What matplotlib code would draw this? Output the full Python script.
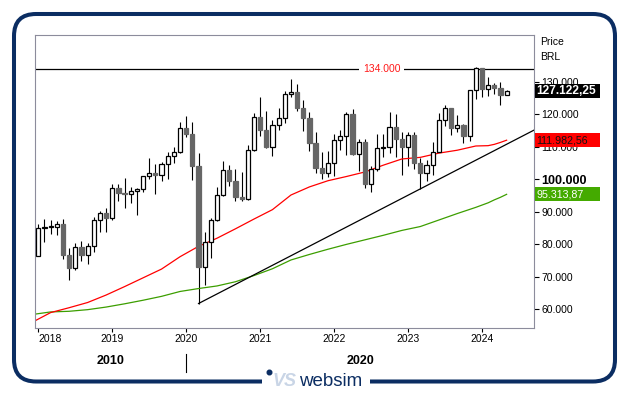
import numpy as np
import pandas as pd
import matplotlib
matplotlib.use("Agg")
import matplotlib.pyplot as plt
from matplotlib.patches import Rectangle, FancyBboxPatch, Circle
from matplotlib.transforms import blended_transform_factory

plt.rcParams['font.family'] = ['Liberation Sans', 'DejaVu Sans']

# monthly Ibovespa candles, Jan 2018 .. May 2024
months = pd.period_range("2018-01", "2024-05", freq="M")
opens = [76403, 84913, 85353, 85366, 86115, 76754, 72763, 79220, 76678, 79342, 87424, 89504,
         87887, 97394, 95584, 95415, 96353, 97030, 100967, 101812, 101135, 104745, 107220, 108233,
         115645, 113761, 104172, 73020, 80506, 87403, 95056, 102912, 99369, 94603, 93952, 108893,
         119017, 115068, 110035, 116634, 118894, 126216, 126802, 121801, 118781, 110979, 103501, 101915,
         104822, 112144, 113142, 119999, 107876, 111351, 98542, 103165, 109523, 110037, 116037, 112486,
         109735, 113532, 104932, 101882, 104432, 108335, 118087, 121943, 115742, 116565, 113143, 127331,
         134185, 127752, 129020, 128106, 125924]
highs = [86213, 87652, 87293, 86954, 87680, 78900, 80300, 81000, 80200, 88300, 90300, 91200,
         98400, 98600, 100400, 97500, 97400, 101100, 106600, 104500, 105200, 108400, 109800, 117700,
         119500, 117500, 108000, 83800, 88000, 97500, 105700, 104300, 103000, 102300, 110500, 120300,
         125300, 121100, 118200, 121800, 127200, 130776, 129300, 124300, 120800, 114600, 108500, 108700,
         113800, 115100, 120800, 121570, 112500, 112500, 103900, 114000, 114000, 120767, 120000, 114500,
         114500, 114500, 106500, 106000, 111500, 120400, 122900, 122000, 119800, 117000, 127400, 134392,
         134300, 131500, 129600, 129900, 127300]
lows = [76403, 80678, 83000, 82762, 75355, 69069, 72000, 74800, 73900, 77600, 83800, 83700,
        87500, 93200, 91200, 92500, 89000, 96000, 100000, 95400, 99500, 100000, 105000, 107900,
        112900, 99600, 61690, 67400, 75600, 87100, 94700, 97800, 93200, 93200, 93700, 108800,
        113400, 109500, 107000, 115000, 117200, 125300, 121000, 114800, 108800, 101800, 100075, 100600,
        100850, 109000, 107300, 107300, 102500, 97200, 96000, 102600, 106800, 108000, 106800, 101300,
        104000, 103200, 96997, 99500, 101200, 108200, 116500, 113600, 114400, 111000, 111700, 124800,
        125300, 125500, 126200, 122800, 125900]
closes = [84913, 85353, 85366, 86115, 76754, 72763, 79220, 76678, 79342, 87424, 89504, 87887,
          97394, 95584, 95415, 96353, 97030, 100967, 101812, 101135, 104745, 107220, 108233, 115645,
          113761, 104172, 73020, 80506, 87403, 95056, 102912, 99369, 94603, 93952, 108893, 119017,
          115068, 110035, 116634, 118894, 126216, 126802, 121801, 118781, 110979, 103501, 101915, 104822,
          112144, 113142, 119999, 107876, 111351, 98542, 103165, 109523, 110037, 116037, 112486, 109735,
          113532, 104932, 101882, 104432, 108335, 118087, 121943, 115742, 116565, 113143, 127331, 134185,
          127752, 129020, 128106, 125924, 127122.25]

# moving averages (red = 50 periods, green = 100 periods)
ma_months = ["2017-12", "2018-03", "2018-06", "2018-09", "2018-12", "2019-03", "2019-06", "2019-09",
             "2019-12", "2020-03", "2020-06", "2020-09", "2020-12", "2021-03", "2021-06", "2021-09",
             "2021-12", "2022-03", "2022-06", "2022-09", "2022-12", "2023-03", "2023-06", "2023-09",
             "2023-12", "2024-02", "2024-03", "2024-04", "2024-05"]
ma50 = [55900, 58900, 60400, 62000, 64300, 66900, 69600, 72300,
        76100, 79300, 81800, 84700, 87700, 90600, 95100, 97600,
        99500, 100800, 102200, 104300, 106200, 106700, 108000, 108900,
        110200, 110300, 110700, 111300, 111982.56]
ma100 = [58300, 59100, 59300, 59800, 60600, 61600, 62700, 63900,
         65400, 66300, 67100, 68400, 70300, 72400, 75100, 76800,
         78400, 79900, 81300, 82700, 84200, 85400, 87400, 89400,
         91300, 92700, 93600, 94400, 95313.87]

resistance = 134000
trend_pts = [("2020-03", 61690), ("2023-03", 96997)]
yticks = [60000, 70000, 80000, 90000, 100000, 110000, 120000, 130000]
decades = ["2010", "2020"]


def month_idx(s):
    p = pd.Period(s, freq="M")
    return (p.year - 2018) * 12 + p.month - 1


def fmt_thousands(v):
    return f"{v:,.0f}".replace(",", ".")


def fmt_price(v):
    return f"{v:,.2f}".replace(",", "X").replace(".", ",").replace("X", ".")


fig = plt.figure(figsize=(6.29, 3.95), dpi=100)

# frame with the logo sitting on the bottom edge
bg = fig.add_axes([0, 0, 1, 1])
bg.set_xlim(0, 629)
bg.set_ylim(395, 0)
bg.axis("off")
navy = "#0b2d62"
bg.add_patch(FancyBboxPatch((14, 14), 601, 367.5, boxstyle="round,pad=0,rounding_size=22",
                            fill=False, ec=navy, lw=2.9))
bg.add_patch(Rectangle((262, 374), 108, 14, fc="white", ec="none", zorder=3))
bg.add_patch(Circle((269.5, 372.5), 2.3, color=navy, zorder=4))
bg.text(272, 382, "VS", fontsize=13, fontweight="bold", style="italic", color="#c9d5e6",
        ha="left", va="center", zorder=4)
bg.text(299, 381, "websim", fontsize=13.5, color=navy, ha="left", va="center", zorder=4)

ax = fig.add_axes([0.0561, 0.1696, 0.7934, 0.7426])
x = np.arange(len(months))
xmax = 80.5
ax.set_xlim(-0.49, xmax)
ax.set_ylim(54150, 144475)

o = np.array(opens)
c = np.array(closes)
up = c >= o
ax.vlines(x, lows, highs, color="black", lw=0.8, zorder=2)
ax.bar(x, np.maximum(np.abs(c - o), 150), bottom=np.minimum(o, c), width=0.68,
       color=np.where(up, "white", "#666666"), edgecolor=np.where(up, "black", "#666666"),
       lw=0.9, zorder=3)

mx = [month_idx(m) for m in ma_months]
ax.plot(mx, ma100, color="#3c9e00", lw=0.9, zorder=2.5)
ax.plot(mx, ma50, color="#ff0000", lw=0.9, zorder=2.5)

# trendline through the two lows, extended to the right edge
(m0, v0), (m1, v1) = trend_pts
x0, x1 = month_idx(m0), month_idx(m1)
slope = (v1 - v0) / (x1 - x0)
ax.plot([x0, xmax], [v0, v0 + slope * (xmax - x0)], color="black", lw=0.9, zorder=2.5)

ax.axhline(resistance, color="black", lw=0.9, zorder=2.5)
ax.text(0.694, resistance, fmt_thousands(resistance), transform=blended_transform_factory(ax.transAxes, ax.transData),
        color="#ff1a1a", fontsize=7.5, ha="center", va="center", zorder=4,
        bbox=dict(boxstyle="square,pad=0.35", fc="white", ec="none"))

# axes styling
for s in ax.spines.values():
    s.set_color("#8c8c9c")
    s.set_linewidth(0.8)
ax.yaxis.tick_right()
ax.set_yticks(yticks)
ax.set_yticklabels([fmt_thousands(v) for v in yticks])
ax.tick_params(axis="y", direction="out", length=3.6, width=0.8, pad=1.5, labelsize=7.5)
for lab, v in zip(ax.get_yticklabels(), yticks):
    if v == 100000:
        lab.set_fontweight("bold")
        lab.set_fontsize(9)

year_idx = [i for i, p in enumerate(months) if p.month == 1]
ax.set_xticks(year_idx)
ax.set_xticklabels([str(months[i].year) for i in year_idx])
ax.tick_params(axis="x", direction="out", length=3, width=0.8, pad=1.5, labelsize=7.5)
ax.get_xticklabels()[0].set_ha("left")

bx = blended_transform_factory(ax.transData, ax.transAxes)
split = month_idx("2020-01")
ax.text((ax.get_xlim()[0] + split) / 2, -0.114, decades[0], transform=bx, fontsize=9,
        fontweight="bold", ha="center", va="center")
ax.text((split + xmax) / 2, -0.114, decades[1], transform=bx, fontsize=9,
        fontweight="bold", ha="center", va="center")
ax.plot([split, split], [-0.089, -0.149], transform=bx, color="black", lw=0.8, clip_on=False)

# labels on the right
ax.text(1.011, 0.976, "Price", transform=ax.transAxes, fontsize=7.5, va="center")
ax.text(1.011, 0.925, "BRL", transform=ax.transAxes, fontsize=7.5, va="center")

by = blended_transform_factory(ax.transAxes, ax.transData)
box_h = 4312
for val, fc, tc, fw, fs in [(closes[-1], "black", "white", "bold", 8.6),
                            (ma50[-1], "#ff0000", "#111111", "normal", 7.7),
                            (ma100[-1], "#44aa00", "white", "normal", 7.7)]:
    ax.add_patch(Rectangle((1.0014, val - box_h / 2), 0.1302, box_h, transform=by,
                           fc=fc, ec="none", clip_on=False, zorder=5))
    ax.text(1.004, val, fmt_price(val), transform=by, color=tc, fontweight=fw, fontsize=fs,
            ha="left", va="center", zorder=6, clip_on=False)

fig.savefig("out.png", dpi=100, facecolor="white")
